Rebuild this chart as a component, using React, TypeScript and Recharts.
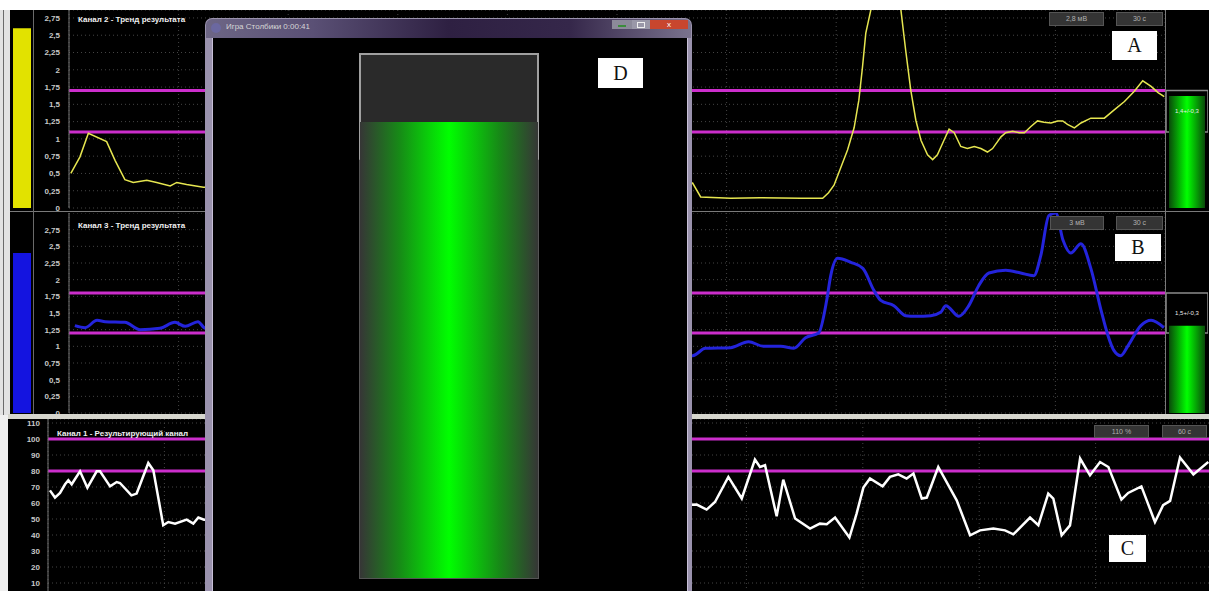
import React from "react"
import { LineChart, Line, XAxis, YAxis, CartesianGrid, ReferenceLine, ReferenceArea, BarChart, Bar } from "recharts"

// Канал 2 - тренд результата (мВ), window of 30 s
const ch2Times = [
  0.05, 0.3, 0.53, 1.03, 1.26, 1.53, 1.76, 2.13, 2.4, 2.77, 2.95, 3.22, 3.68,
  17.07, 17.29, 18.11, 18.93, 20.03, 20.63, 20.79, 20.94, 21.31, 21.49, 21.62, 21.72, 21.81, 21.95, 22.36,
  22.77, 22.9, 23.04, 23.18, 23.32, 23.5, 23.64, 23.77, 23.95, 24.09, 24.23, 24.41, 24.59, 24.78, 24.96,
  25.14, 25.28, 25.51, 25.64, 25.83, 26.01, 26.15, 26.33, 26.51, 26.69, 26.88, 27.06, 27.2, 27.33, 27.52,
  27.7, 27.97, 28.34, 28.61, 28.89, 29.16, 29.39, 29.62, 29.81, 29.98,
]
const ch2Values = [
  0.5, 0.74, 1.08, 0.96, 0.69, 0.41, 0.37, 0.4, 0.37, 0.32, 0.37, 0.34, 0.3,
  0.36, 0.16, 0.14, 0.15, 0.14, 0.14, 0.22, 0.33, 0.84, 1.16, 1.56, 2.04, 2.53, 2.87, 3.5,
  2.87, 2.29, 1.71, 1.27, 0.98, 0.77, 0.7, 0.77, 0.98, 1.14, 1.09, 0.89, 0.86, 0.89, 0.86,
  0.81, 0.86, 1.03, 1.09, 1.11, 1.09, 1.09, 1.18, 1.26, 1.24, 1.23, 1.26, 1.26, 1.21, 1.16,
  1.23, 1.3, 1.3, 1.42, 1.54, 1.69, 1.84, 1.76, 1.67, 1.61,
]

// Канал 3 - тренд результата (мВ), window of 30 s
const ch3Times = [
  0.16, 0.44, 0.77, 0.99, 1.53, 1.95, 2.49, 2.9, 3.18, 3.53, 3.73,
  17.07, 17.42, 18.11, 18.6, 19.01, 19.48, 19.84, 20.16, 20.52, 20.74, 20.85, 21.04, 21.4, 21.73, 22.03,
  22.22, 22.58, 22.9, 23.18, 23.59, 23.86, 24.0, 24.36, 24.63, 24.9, 25.18, 25.64, 26.05, 26.41, 26.6,
  26.82, 27.01, 27.21, 27.42, 27.7, 27.97, 28.25, 28.44, 28.6, 28.79, 28.99, 29.34, 29.62, 29.97,
]
const ch3Values = [
  1.31, 1.28, 1.39, 1.37, 1.36, 1.25, 1.27, 1.36, 1.3, 1.37, 1.27,
  0.86, 0.97, 0.98, 1.07, 1.0, 1.0, 0.97, 1.13, 1.2, 1.69, 2.06, 2.32, 2.26, 2.17, 1.84,
  1.69, 1.61, 1.46, 1.45, 1.46, 1.51, 1.61, 1.45, 1.61, 1.91, 2.1, 2.14, 2.1, 2.06, 2.36,
  2.96, 3.0, 2.59, 2.4, 2.54, 2.17, 1.54, 1.16, 0.94, 0.86, 1.01, 1.31, 1.39, 1.28,
]

// Канал 1 - результирующий канал (%), window of 60 s
const ch1Times = [
  0.1, 0.36, 0.62, 0.88, 1.05, 1.22, 1.65, 2.03, 2.51, 2.68, 3.2, 3.54, 3.71, 4.3, 4.57, 5.17, 5.43,
  5.94, 6.2, 6.55, 7.15, 7.49, 7.75, 8.04,
  33.44, 33.95, 34.38, 35.07, 35.76, 36.44, 36.7, 36.96, 37.56, 37.9, 38.51, 39.28, 39.79, 40.14, 40.57,
  41.31, 41.68, 42.03, 42.37, 43.02, 43.4, 43.83, 44.26, 44.61, 45.04, 45.3, 45.89, 46.84, 47.53, 48.04,
  48.73, 49.33, 49.76, 50.62, 51.05, 51.56, 51.82, 52.25, 52.68, 53.2, 53.71, 54.23, 54.66, 55.33, 55.68,
  56.36, 57.06, 57.48, 57.84, 58.35, 59.04, 59.81,
]
const ch1Values = [
  67.9, 63.4, 66.3, 71.7, 74.2, 71.7, 79.8, 69.6, 79.8, 79.8, 70.4, 73.1, 72.5, 64.8, 65.9, 85, 80.4,
  46.1, 48.1, 47.1, 49.6, 47.1, 50.9, 49.6,
  59, 55.9, 60.6, 76.3, 62.8, 87.1, 82.5, 83.6, 51.7, 74.6, 50.3, 44, 47.1, 46.7, 50.9,
  38.4, 53.4, 69.6, 75.3, 70.4, 76.3, 77.9, 75.3, 78.4, 62.8, 63.4, 82.5, 61.7, 39.8, 42.9,
  44, 42.9, 40.4, 50.9, 46.1, 65.9, 62.8, 39.8, 46, 87.8, 77.3, 85.6, 82.5, 62.1, 66.3,
  70.4, 48.1, 58.6, 61.3, 88.4, 77.9, 85.6,
]

const trendTicks = [0, 0.25, 0.5, 0.75, 1, 1.25, 1.5, 1.75, 2, 2.25, 2.5, 2.75]
// the 0 of this axis lies below the visible screenshot
const resultTicks = [10, 20, 30, 40, 50, 60, 70, 80, 90, 100, 110]
const time30Ticks = [0, 3, 6, 9, 12, 15, 18, 21, 24, 27, 30]
const time60Ticks = [0, 6, 12, 18, 24, 30, 36, 42, 48, 54, 60]

const ch2Band = [1.1, 1.7]
const ch3Band = [1.2, 1.8]
const ch1Band = [80, 100]

const ch2Level = 2.6
const ch3Level = 2.4
const ch2Result = 1.62
const ch3Result = 1.31
const gameLevel = 0.87
const gameTarget = [0.8, 1]

const comma = (v: number) => String(v).replace(".", ",")

const tickStyle = { fill: "#c8c8c8", fontSize: 8, fontWeight: 700, fontFamily: "Liberation Sans" }

function Trend({ left, top, width, height, bottom, times, values, color, lineWidth, curve, yMax, yTicks, axisWidth, xMax, xTicks, band, tickMargin }: any) {
  const data = times.map((t: number, i: number) => ({ t, v: values[i] }))
  return (
    <div style={{ position: "absolute", left, top }}>
      <LineChart width={width} height={height} data={data} margin={{ top: 0, right: 0, bottom, left: 0 }}>
        <CartesianGrid stroke="#444" strokeDasharray="1 3" />
        <XAxis type="number" dataKey="t" domain={[0, xMax]} ticks={xTicks} hide allowDataOverflow />
        <YAxis
          domain={[0, yMax]}
          ticks={yTicks}
          interval={0}
          allowDataOverflow
          width={axisWidth}
          tickFormatter={comma}
          tick={tickStyle}
          axisLine={{ stroke: "#777" }}
          tickLine={false}
          tickMargin={tickMargin}
        />
        {band.map((b: number) => (
          <ReferenceLine key={b} y={b} stroke="#cc2ecc" strokeWidth={3} />
        ))}
        <Line type={curve} dataKey="v" stroke={color} strokeWidth={lineWidth} dot={false} isAnimationActive={false} />
      </LineChart>
    </div>
  )
}

function LevelBar({ left, top, height, yMax, value, fill }: any) {
  return (
    <div style={{ position: "absolute", left, top }}>
      <BarChart width={18} height={height} data={[{ name: "level", v: value }]} margin={{ top: 0, right: 0, bottom: 0, left: 0 }} barCategoryGap={0}>
        <XAxis dataKey="name" hide />
        <YAxis domain={[0, yMax]} hide allowDataOverflow />
        <Bar dataKey="v" fill={fill} isAnimationActive={false} />
      </BarChart>
    </div>
  )
}

function Indicator({ left, top, height, yMax, value, band, label }: any) {
  return (
    <div style={{ position: "absolute", left, top }}>
      <BarChart width={42} height={height} data={[{ name: "result", v: value }]} margin={{ top: 0, right: 0, bottom: 0, left: 0 }} barCategoryGap={3}>
        <defs>
          <linearGradient id={"ind" + label} x1="0" y1="0" x2="1" y2="0">
            <stop offset="0%" stopColor="#0a4a0a" />
            <stop offset="50%" stopColor="#00ff00" />
            <stop offset="100%" stopColor="#0a4a0a" />
          </linearGradient>
        </defs>
        <XAxis dataKey="name" hide />
        <YAxis domain={[0, yMax]} hide allowDataOverflow />
        <Bar dataKey="v" fill={`url(#ind${label})`} isAnimationActive={false} />
        <ReferenceArea
          y1={band[0]}
          y2={band[1]}
          fill="none"
          stroke="#8c8c8c"
          strokeWidth={1.5}
          label={{ value: label, fill: "#e8e8e8", fontSize: 6, fontFamily: "Liberation Sans" }}
        />
      </BarChart>
    </div>
  )
}

function GameColumn() {
  return (
    <div style={{ position: "absolute", left: 359, top: 53, zIndex: 12 }}>
      <BarChart width={180} height={526} data={[{ name: "game", v: gameLevel }]} margin={{ top: 1, right: 1, bottom: 1, left: 1 }} barCategoryGap={0}>
        <defs>
          <linearGradient id="gameGrad" x1="0" y1="0" x2="1" y2="0">
            <stop offset="0%" stopColor="#363636" />
            <stop offset="22%" stopColor="#178a17" />
            <stop offset="50%" stopColor="#00ff00" />
            <stop offset="78%" stopColor="#178a17" />
            <stop offset="100%" stopColor="#363636" />
          </linearGradient>
        </defs>
        <XAxis dataKey="name" hide />
        <YAxis domain={[0, 1]} hide />
        <Bar dataKey="v" fill="url(#gameGrad)" background={{ fill: "#2a2a2a" }} isAnimationActive={false} />
        <ReferenceArea y1={0} y2={1} fill="none" stroke="#555" strokeWidth={2} />
        <ReferenceArea y1={gameTarget[0]} y2={gameTarget[1]} fill="none" stroke="#a0a0a0" strokeWidth={2} />
      </BarChart>
    </div>
  )
}

const box = (left: number, top: number, w: number, h: number, text: string) => (
  <div
    style={{
      position: "absolute", left, top, width: w, height: h, background: "#343434", border: "1px solid #555",
      color: "#b0b0b0", fontSize: 7, fontFamily: "Liberation Sans", lineHeight: h + "px", textAlign: "center", zIndex: 5,
    }}
  >
    {text}
  </div>
)

const letter = (left: number, top: number, w: number, h: number, text: string) => (
  <div
    style={{
      position: "absolute", left, top, width: w, height: h, background: "#fff", color: "#111",
      fontSize: 20, fontFamily: "Liberation Serif", lineHeight: h + "px", textAlign: "center", zIndex: 14,
    }}
  >
    {text}
  </div>
)

const title = (left: number, top: number, text: string) => (
  <div style={{ position: "absolute", left, top, color: "#f0f0f0", fontSize: 8, fontWeight: 700, fontFamily: "Liberation Sans", whiteSpace: "nowrap", zIndex: 5 }}>
    {text}
  </div>
)

export default function App() {
  return (
    <div style={{ position: "fixed", left: 0, top: 0, width: 1209, height: 591, overflow: "hidden", background: "#000" }}>
      {/* white border strips of the screenshot */}
      <div style={{ position: "absolute", left: 0, top: 0, width: 1209, height: 10, background: "#fff", zIndex: 6 }} />
      <div style={{ position: "absolute", left: 0, top: 10, width: 10, height: 405, background: "#e2e2e2", zIndex: 6 }} />
      <div style={{ position: "absolute", left: 3, top: 10, width: 1, height: 405, background: "#6a6a6a", zIndex: 6 }} />
      <div style={{ position: "absolute", left: 0, top: 415, width: 8, height: 176, background: "#efefef", zIndex: 6 }} />

      {/* channel 2 */}
      <LevelBar left={13} top={10} height={198} yMax={2.865} value={ch2Level} fill="#e2e200" />
      <Trend left={35} top={10} width={1130} height={202} bottom={4} times={ch2Times} values={ch2Values} color="#e6e650"
        lineWidth={1.5} curve="linear" yMax={2.865} yTicks={trendTicks} axisWidth={34} xMax={30} xTicks={time30Ticks} band={ch2Band} tickMargin={3} />
      <Indicator left={1166} top={10} height={198} yMax={2.865} value={ch2Result} band={ch2Band} label="1,4+/-0,3" />
      {title(78, 15, "Канал 2 - Тренд результата")}
      {box(1049, 12, 53, 12, "2,8 мВ")}
      {box(1116, 12, 45, 12, "30 с")}

      {/* channel 3 */}
      <LevelBar left={13} top={212.5} height={200} yMax={3} value={ch3Level} fill="#1414e0" />
      <Trend left={35} top={212.5} width={1130} height={204} bottom={4} times={ch3Times} values={ch3Values} color="#2424dc"
        lineWidth={3} curve="monotone" yMax={3} yTicks={trendTicks} axisWidth={34} xMax={30} xTicks={time30Ticks} band={ch3Band} tickMargin={3} />
      <Indicator left={1166} top={212.5} height={200} yMax={3} value={ch3Result} band={ch3Band} label="1,5+/-0,3" />
      {title(78, 221, "Канал 3 - Тренд результата")}
      {box(1050, 216, 52, 12, "3 мВ")}
      {box(1116, 216, 45, 12, "30 с")}

      {/* channel 1 */}
      <Trend left={8} top={418.5} width={1204} height={180} bottom={0} times={ch1Times} values={ch1Values} color="#ffffff"
        lineWidth={2.5} curve="linear" yMax={112.5} yTicks={resultTicks} axisWidth={40} xMax={60} xTicks={time60Ticks} band={ch1Band} tickMargin={2} />
      {title(57, 429, "Канал 1 - Результирующий канал")}
      {box(1094, 425, 53, 11, "110 %")}
      {box(1162, 425, 43, 11, "60 с")}

      {/* panel separators */}
      <div style={{ position: "absolute", left: 10, top: 211, width: 1199, height: 1, background: "#7a7a7a", zIndex: 6 }} />
      <div style={{ position: "absolute", left: 33, top: 10, width: 1, height: 404, background: "#6a6a6a", zIndex: 6 }} />
      <div style={{ position: "absolute", left: 1165, top: 10, width: 1, height: 404, background: "#7a7a7a", zIndex: 6 }} />
      <div style={{ position: "absolute", left: 8, top: 414, width: 1201, height: 5, background: "#d6d6ce", zIndex: 6 }} />

      {letter(1112, 31, 45, 29, "A")}
      {letter(1115, 234, 46, 27, "B")}
      {letter(1109, 535, 37, 27, "C")}

      {/* window "Игра Столбики" */}
      <div style={{ position: "absolute", left: 205, top: 18, width: 487, height: 600, background: "#9a92ad", borderRadius: "7px 7px 0 0", zIndex: 10 }} />
      <div
        style={{
          position: "absolute", left: 206, top: 19, width: 485, height: 19, borderRadius: "6px 6px 0 0", zIndex: 11,
          background: "linear-gradient(90deg, #6d6685 0%, #5a5075 22%, #2e2042 50%, #35274a 75%, #7a738e 100%)",
        }}
      />
      <div style={{ position: "absolute", left: 211, top: 23, width: 10, height: 10, borderRadius: 5, background: "#6b68a0", zIndex: 12 }} />
      <div style={{ position: "absolute", left: 226, top: 22, color: "#d6d6d6", fontSize: 8, fontFamily: "Liberation Sans", whiteSpace: "nowrap", zIndex: 12 }}>
        Игра Столбики 0:00:41
      </div>
      <div style={{ position: "absolute", left: 612, top: 20, width: 20, height: 9, background: "#8c8a9a", zIndex: 12 }}>
        <div style={{ position: "absolute", left: 6, top: 5, width: 8, height: 2, background: "#3c8c3c" }} />
      </div>
      <div style={{ position: "absolute", left: 632, top: 20, width: 18, height: 9, background: "#9a98a8", zIndex: 12 }}>
        <div style={{ position: "absolute", left: 5, top: 2, width: 6, height: 4, border: "1px solid #eee" }} />
      </div>
      <div style={{ position: "absolute", left: 650, top: 20, width: 38, height: 9, background: "#c8462e", color: "#fff", fontSize: 8, lineHeight: "9px", textAlign: "center", fontFamily: "Liberation Sans", zIndex: 12 }}>
        x
      </div>
      <div style={{ position: "absolute", left: 212, top: 38, width: 474, height: 560, background: "#000", borderLeft: "1px solid #c8c0d8", borderRight: "1px solid #c8c0d8", zIndex: 11 }} />
      <GameColumn />
      {letter(598, 58, 45, 30, "D")}
    </div>
  )
}
